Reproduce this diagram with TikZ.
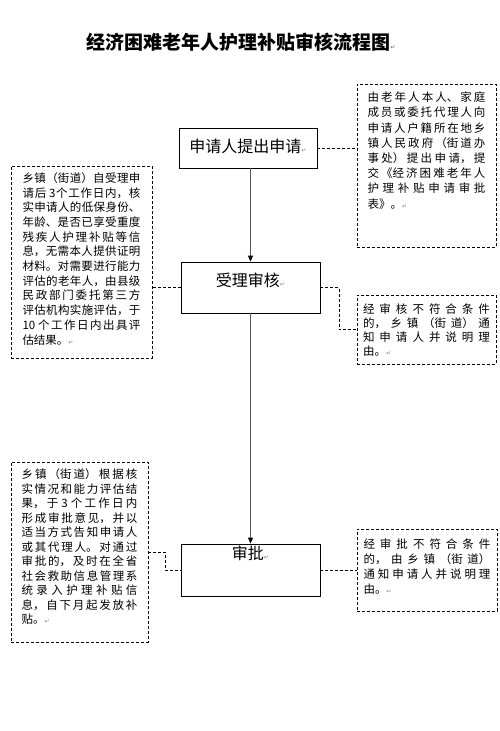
\documentclass[tikz,border=0pt]{standalone}
\usepackage{fontspec}
\usetikzlibrary{arrows.meta}
\newfontfamily\cjk{Noto Sans CJK SC}
\newfontfamily\markfont{DejaVu Sans}
\XeTeXlinebreaklocale "zh"
\XeTeXlinebreakskip=0pt plus 6pt
\newcommand{\pmark}{{\markfont\fontsize{6pt}{6pt}\selectfont\textcolor{gray}{\symbol{"21B5}}}}
\newcommand{\notebox}[4][14.8pt]{\parbox[c][#3][t]{#2}{\cjk\fontsize{11.5pt}{#1}\selectfont #4}}

\begin{document}
\begin{tikzpicture}[x=1pt, y=-1pt, >={Triangle[length=6pt,width=5pt,black]},
    stepbox/.style={draw, line width=0.8pt, inner sep=0pt, minimum width=139pt, font=\cjk\fontsize{16pt}{16pt}\selectfont},
    note/.style={draw, dashed, dash pattern=on 3pt off 2pt, line width=0.6pt},
    link/.style={dashed, dash pattern=on 3pt off 2pt, line width=0.6pt},
    flow/.style={->, line width=0.8pt, gray!70!black}]
    \useasboundingbox (0,0) rectangle (500,731);
    \node[font=\cjk\bfseries\fontsize{19pt}{19pt}\selectfont] (title) at (241,42) {经济困难老年人护理补贴审核流程图\pmark};

    \node[stepbox, minimum width=138pt, text height=24pt, text depth=16pt] (apply) at (248,148) {申请人提出申请\pmark};
    \node[stepbox, text height=24pt, text depth=27pt] (accept) at (250.5,287.5) {受理审核\pmark};
    \node[stepbox, text height=15pt, text depth=37pt] (approve) at (250.5,570) {审批\pmark};

    \node[note, inner xsep=10.5pt, inner ysep=8pt] (ask) at (426.5,165.5) {\notebox[15.2pt]{118pt}{147pt}{%
      由老年人本人、家庭\linebreak
      成员或委托代理人向\linebreak
      申请人户籍所在地乡\linebreak
      镇人民政府（街道办\linebreak
      事处）提出申请，提\linebreak
      交《经济困难老年人\linebreak
      护理补贴申请审批\linebreak
      表》。\pmark}};
    \node[note, inner xsep=11.5pt, inner ysep=6.5pt] (check) at (81.5,262) {\notebox[14.7pt]{118pt}{179pt}{%
      乡镇（街道）自受理申\linebreak
      请后 3个工作日内，核\linebreak
      实申请人的低保身份、\linebreak
      年龄、是否已享受重度\linebreak
      残疾人护理补贴等信\linebreak
      息，无需本人提供证明\linebreak
      材料。对需要进行能力\linebreak
      评估的老年人，由县级\linebreak
      民政部门委托第三方\linebreak
      评估机构实施评估，于\linebreak
      10 个工作日内出具评\linebreak
      估结果。\pmark}};
    \node[note, inner xsep=6pt, inner ysep=9pt] (reject1) at (426.5,329.5) {\notebox[13.9pt]{127pt}{51pt}{%
      经审核不符合条件\linebreak
      的，乡镇（街道）通\linebreak
      知申请人并说明理\linebreak
      由。\pmark}};
    \node[note, inner xsep=10.5pt, inner ysep=7pt] (review) at (79.5,552) {\notebox[14.5pt]{116pt}{166pt}{%
      乡镇（街道）根据核\linebreak
      实情况和能力评估结\linebreak
      果，于 3 个工作日内\linebreak
      形成审批意见，并以\linebreak
      适当方式告知申请人\linebreak
      或其代理人。对通过\linebreak
      审批的，及时在全省\linebreak
      社会救助信息管理系\linebreak
      统录入护理补贴信\linebreak
      息，自下月起发放补\linebreak
      贴。\pmark}};
    \node[note, inner xsep=6.5pt, inner ysep=9.5pt] (reject2) at (427,570) {\notebox[15.2pt]{127pt}{63pt}{%
      经审批不符合条件\linebreak
      的，由乡镇（街道）\linebreak
      通知申请人并说明理\linebreak
      由。\pmark}};

    \draw[link] (apply.east) -- (apply.east -| ask.west);
    \draw[flow] (accept.north |- apply.south) -- (accept.north);
    \draw[link] (accept.west) -- (accept.west -| check.east);
    \draw[link] (accept.east) -- ++(19,0) |- (reject1.west);
    \draw[flow] (accept.south) -- (approve.north);
    \draw[link] (review.east) -- ++(17,0) |- (approve.west);
    \draw[link] (approve.east) -- (reject2.west);
\end{tikzpicture}
\end{document}
